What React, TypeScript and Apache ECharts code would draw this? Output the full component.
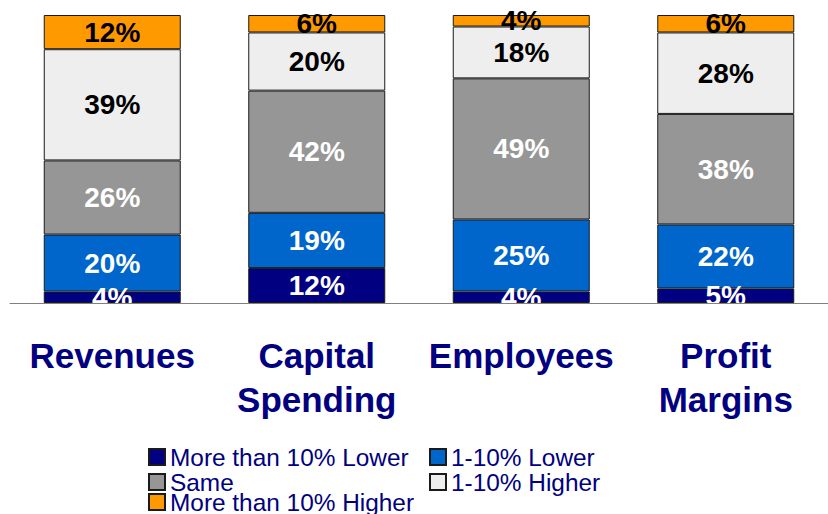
import React, { useEffect, useRef } from "react";
import * as echarts from "echarts";

const categories = ["Revenues", "Capital\nSpending", "Employees", "Profit\nMargins"];
const seriesNames = [
  "More than 10% Lower",
  "1-10% Lower",
  "Same",
  "1-10% Higher",
  "More than 10% Higher",
];
const moreThan10Lower = [4, 12, 4, 5];
const lower1to10 = [20, 19, 25, 22];
const same = [26, 42, 49, 38];
const higher1to10 = [39, 20, 18, 28];
const moreThan10Higher = [12, 6, 4, 6];

const seriesValues = [moreThan10Lower, lower1to10, same, higher1to10, moreThan10Higher];
const seriesColors = ["#000080", "#0066CC", "#969696", "#EEEEEE", "#FF9900"];
const labelColors = ["#FFFFFF", "#FFFFFF", "#FFFFFF", "#000000", "#000000"];

const FONT = "'Liberation Sans', Arial, Helvetica, sans-serif";

export default function App() {
  const ref = useRef<HTMLDivElement>(null);

  useEffect(() => {
    if (!ref.current) return;
    const chart = echarts.init(ref.current, null, { renderer: "svg" });

    const totals = categories.map((_, i) =>
      seriesValues.reduce((s, arr) => s + arr[i], 0)
    );

    const series = seriesNames.map((name, si) => ({
      name,
      type: "bar",
      stack: "total",
      barWidth: 137,
      z: 2,
      data: seriesValues[si].map((v, i) => ({
        value: (v / totals[i]) * 100,
        raw: v,
      })),
      itemStyle: {
        color: seriesColors[si],
        borderColor: "#1a1a1a",
        borderWidth: 1,
      },
      label: {
        show: true,
        position: "inside",
        formatter: (p: any) => `${p.data.raw}%`,
        color: labelColors[si],
        fontSize: 28,
        fontWeight: "bold",
        fontFamily: FONT,
      },
      emphasis: { disabled: true },
    }));

    const legendText = {
      color: "#000080",
      fontSize: 24.4,
      fontFamily: FONT,
      lineHeight: 22,
    };

    const legendBase = {
      orient: "vertical",
      padding: 0,
      itemGap: 1,
      itemWidth: 16,
      itemHeight: 16,
      icon: "rect",
      textStyle: legendText,
      selectedMode: false,
    };

    chart.setOption({
      animation: false,
      backgroundColor: "#FFFFFF",
      grid: { left: 10, top: 15, width: 822, height: 288, containLabel: false },
      xAxis: {
        type: "category",
        data: categories,
        z: 10,
        axisLine: { lineStyle: { color: "#808080", width: 1 } },
        axisTick: { length: 11, lineStyle: { color: "#808080", width: 1 } },
        axisLabel: {
          interval: 0,
          color: "#000080",
          fontSize: 35,
          fontWeight: "bold",
          fontFamily: FONT,
          lineHeight: 44,
          margin: 30,
        },
      },
      yAxis: { type: "value", min: 0, max: 100, show: false },
      legend: [
        { ...legendBase, left: 148, top: 445, data: [seriesNames[0], seriesNames[2]] },
        { ...legendBase, left: 148, top: 490, data: [seriesNames[4]] },
        { ...legendBase, left: 429, top: 445, data: [seriesNames[1], seriesNames[3]] },
      ],
      graphic: [
        {
          type: "rect",
          left: 0,
          top: 304,
          z: 5,
          shape: { width: 828, height: 22 },
          style: { fill: "#FFFFFF" },
        },
      ],
      series,
    });

    return () => chart.dispose();
  }, []);

  return (
    <div
      ref={ref}
      style={{ position: "fixed", left: 0, top: 0, width: 828, height: 514 }}
    />
  );
}
